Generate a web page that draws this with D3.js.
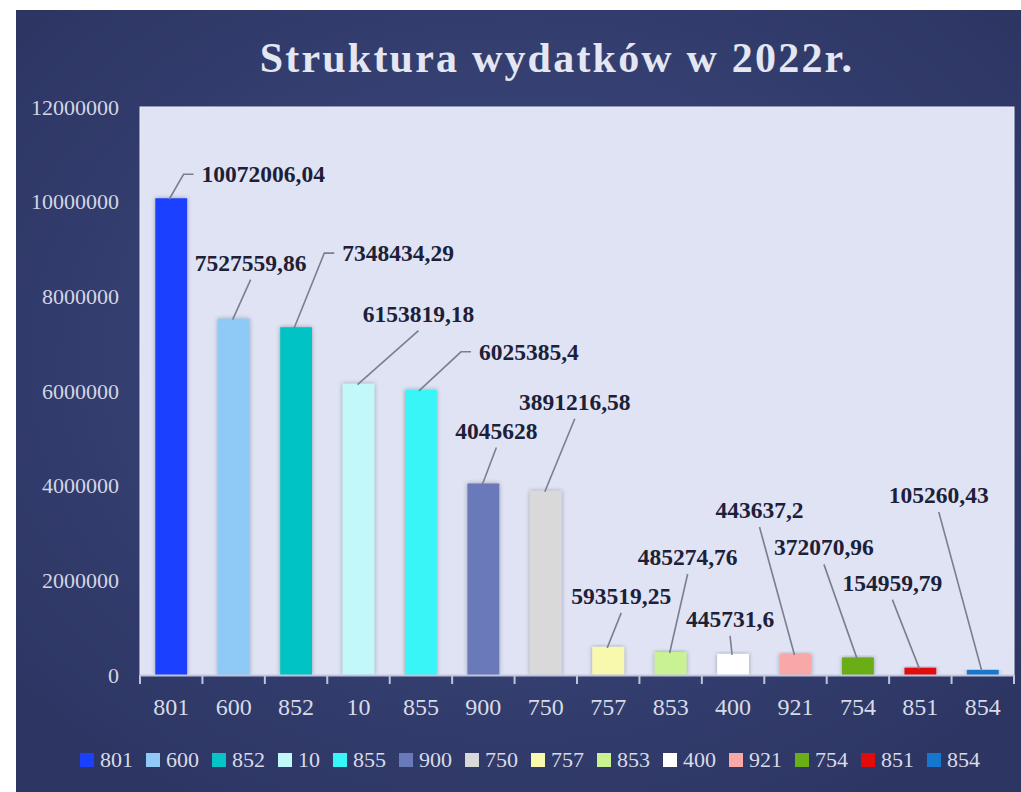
<!DOCTYPE html>
<html lang="pl">
<head>
<meta charset="UTF-8">
<title>Struktura wydatków w 2022r.</title>
<script src="https://cdn.jsdelivr.net/npm/d3@7"></script>
<style>
  html, body { margin: 0; padding: 0; background: #ffffff; }
  svg { display: block; }
</style>
</head>
<body>
<div id="chart"></div>
<script>
// data
const categories = ["801", "600", "852", "10", "855", "900", "750", "757", "853", "400", "921", "754", "851", "854"];
const values = [10072006.04, 7527559.86, 7348434.29, 6153819.18, 6025385.4, 4045628, 3891216.58,
                593519.25, 485274.76, 445731.6, 443637.2, 372070.96, 154959.79, 105260.43];
const valueLabels = ["10072006,04", "7527559,86", "7348434,29", "6153819,18", "6025385,4", "4045628", "3891216,58",
                     "593519,25", "485274,76", "445731,6", "443637,2", "372070,96", "154959,79", "105260,43"];
const yTicks = [0, 2000000, 4000000, 6000000, 8000000, 10000000, 12000000];
const colors = ["#1a40ff", "#8ecaf5", "#05c3c6", "#c3f8fa", "#38f5f8", "#6a79b9", "#d9d9d9",
                "#f9f9ad", "#c9f293", "#ffffff", "#f8a9a7", "#6aae19", "#e10b0b", "#1477cd"];

// where each data label sits, offset from the top of its bar (px), and if its leader has an elbow
const labelOffsets = [[92, -24, 1], [17, -56, 0], [102, -74, 1], [60, -70, 0], [108, -38, 1], [13, -53, 0], [29, -89, 0],
                      [13, -51, 0], [17, -95, 0], [-3, -35, 0], [-36, -144, 0], [-34, -110, 0], [-28, -85, 0], [-44, -175, 0]];

const W = 1021, H = 792;
const plot = {left: 140, right: 1014, top: 107, bottom: 675};

const svg = d3.select("#chart").append("svg")
    .attr("width", W).attr("height", H);

const defs = svg.append("defs");
const grad = defs.append("radialGradient").attr("id", "bg")
    .attr("cx", "50%").attr("cy", "45%").attr("r", "65%");
grad.append("stop").attr("offset", "0%").attr("stop-color", "#3f4b83");
grad.append("stop").attr("offset", "100%").attr("stop-color", "#2d3663");

const shadow = defs.append("filter").attr("id", "shadow")
    .attr("x", "-30%").attr("y", "-10%").attr("width", "160%").attr("height", "120%");
shadow.append("feDropShadow").attr("dx", 0).attr("dy", 0).attr("stdDeviation", 2.2)
    .attr("flood-color", "#3a3f55").attr("flood-opacity", 0.45);

svg.append("rect").attr("x", 16).attr("y", 10).attr("width", W - 16).attr("height", H - 10)
    .attr("fill", "url(#bg)");

svg.append("text")
    .attr("x", 557).attr("y", 72)
    .attr("text-anchor", "middle")
    .attr("font-family", "'Liberation Serif', serif")
    .attr("font-weight", "bold")
    .attr("font-size", 42)
    .attr("letter-spacing", 2.2)
    .attr("fill", "#e4e6f2")
    .text("Struktura wydatków w 2022r.");

svg.append("rect")
    .attr("x", plot.left).attr("y", plot.top)
    .attr("width", plot.right - plot.left).attr("height", plot.bottom - plot.top)
    .attr("fill", "#dfe3f3").attr("stroke", "#eceefa").attr("stroke-width", 1);

const x = d3.scaleBand().domain(categories).range([plot.left, plot.right]).padding(0);
const y = d3.scaleLinear().domain([0, 12000000]).range([plot.bottom, plot.top]);
const barW = x.bandwidth() * 0.51;

// y axis labels
const yAxis = svg.append("g")
    .attr("transform", "translate(" + (plot.left - 21) + ",0)")
    .call(d3.axisLeft(y).tickValues(yTicks).tickSize(0).tickPadding(0).tickFormat(d3.format("d")));
yAxis.select(".domain").remove();
yAxis.selectAll("text")
    .attr("font-family", "'Liberation Serif', serif")
    .attr("font-size", 22)
    .attr("fill", "#d3d6e4");

// bars
svg.append("g").selectAll("rect")
    .data(values)
    .join("rect")
    .attr("x", (d, i) => x(categories[i]) + (x.bandwidth() - barW) / 2)
    .attr("y", d => y(d))
    .attr("width", barW)
    .attr("height", d => y(0) - y(d))
    .attr("fill", (d, i) => colors[i])
    .attr("filter", "url(#shadow)");

// x axis
const xAxis = svg.append("g")
    .attr("transform", "translate(0," + plot.bottom + ")")
    .call(d3.axisBottom(x).tickSize(0).tickPadding(40));
xAxis.select(".domain").attr("stroke", "#bfc4dc").attr("stroke-width", 2);
xAxis.selectAll("text")
    .attr("font-family", "'Liberation Serif', serif")
    .attr("font-size", 24)
    .attr("fill", "#d8dbe8")
    .attr("dy", 0);
svg.append("g").selectAll("line")
    .data(categories.concat(["end"]))
    .join("line")
    .attr("x1", (d, i) => i < categories.length ? x(d) : plot.right)
    .attr("x2", (d, i) => i < categories.length ? x(d) : plot.right)
    .attr("y1", plot.bottom).attr("y2", plot.bottom + 9)
    .attr("stroke", "#bfc4dc").attr("stroke-width", 2);

// data labels with leader lines
const labels = svg.append("g");
values.forEach((v, i) => {
    const bx = x(categories[i]) + x.bandwidth() / 2;
    const by = y(v);
    const [dx, dy, elbow] = labelOffsets[i];
    const cx = bx + dx, cy = by + dy;
    const t = labels.append("text")
        .attr("x", cx).attr("y", cy)
        .attr("text-anchor", "middle")
        .attr("dominant-baseline", "central")
        .attr("font-family", "'Liberation Serif', serif")
        .attr("font-weight", "bold")
        .attr("font-size", 23.5)
        .attr("fill", "#1c2038")
        .text(valueLabels[i]);
    let pts;
    if (elbow) {
        const left = cx - t.node().getComputedTextLength() / 2;
        pts = [[bx - 2, by + 1], [left - 18, cy], [left - 8, cy]];
    } else {
        pts = [[bx - 1, by + 1], [cx, cy + 17]];
    }
    labels.append("path")
        .attr("d", d3.line()(pts))
        .attr("fill", "none")
        .attr("stroke", "#7a7f90")
        .attr("stroke-width", 1.6);
});

// legend
const legend = svg.append("g");
let lx = 0;
categories.forEach((c, i) => {
    const item = legend.append("g").attr("transform", "translate(" + lx + ",0)");
    item.append("rect").attr("x", 0).attr("y", 753).attr("width", 14).attr("height", 14)
        .attr("fill", colors[i]);
    const t = item.append("text")
        .attr("x", 20).attr("y", 767)
        .attr("font-family", "'Liberation Serif', serif")
        .attr("font-size", 22)
        .attr("fill", "#d8dbe8")
        .text(c);
    lx += 20 + t.node().getComputedTextLength() + 13;
});
const legendW = lx - 13;
legend.attr("transform", "translate(" + (530 - legendW / 2) + ",0)");
</script>
</body>
</html>
